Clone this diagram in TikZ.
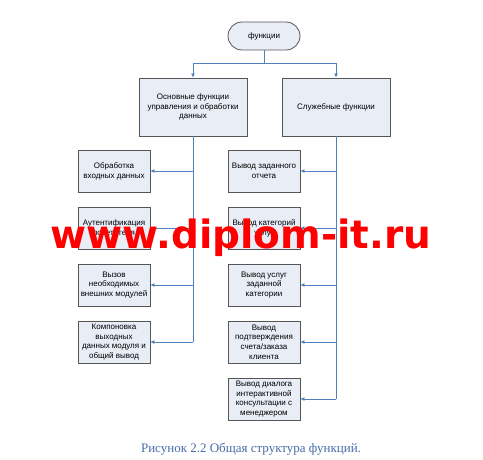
\documentclass[tikz,border=0pt]{standalone}
\usepackage{fontspec}
\setmainfont{Liberation Sans}
\newfontfamily\capfont{Liberation Serif}
\newfontfamily\markfont{DejaVu Sans}
\usepackage{tikz}
\usepackage{xcolor}
\usetikzlibrary{arrows.meta}
\definecolor{boxfill}{RGB}{232,237,246}
\definecolor{boxline}{RGB}{85,85,85}
\definecolor{linkblue}{RGB}{79,129,189}
\definecolor{capblue}{RGB}{74,108,168}

\begin{document}
\begin{tikzpicture}[x=1pt,y=-1pt]
	\tikzstyle{box} = [draw=boxline, fill=boxfill, line width=0.8pt, align=center,
		font=\fontsize{8}{9.8}\selectfont, inner sep=0pt]
	\tikzstyle{small} = [box, minimum width=72pt, minimum height=42pt]
	\tikzstyle{big} = [box, minimum width=108pt, minimum height=58pt]
	\tikzstyle{edge} = [draw=linkblue, line width=0.8pt]
	\tikzstyle{arr} = [edge, -{Latex[length=4pt,width=4pt]}]
	\fill[white] (0,0) rectangle (483,460);
	\useasboundingbox (0,0) rectangle (483,460);
		\node[box, rounded corners=14pt, minimum width=72pt, minimum height=28pt] (f) at (264,36) {функции};
		\node[big] (m) at (193,107) {Основные функции\\управления и обработки\\данных};
		\node[big] (s) at (336,107) {Служебные функции};
		\node[small] (m1) at (114,171) {Обработка\\входных данных};
		\node[small] (m2) at (114,228) {Аутентификация\\посетителя};
		\node[small] (m3) at (114,285) {Вызов\\необходимых\\внешних модулей};
		\node[small] (m4) at (114,342) {Компоновка\\выходных\\данных модуля и\\общий вывод};
		\node[small] (s1) at (264,171) {Вывод заданного\\отчета};
		\node[small] (s2) at (264,228) {Вывод категорий\\услуг};
		\node[small] (s3) at (264,285) {Вывод услуг\\заданной\\категории};
		\node[small] (s4) at (264,342) {Вывод\\подтверждения\\счета/заказа\\клиента};
		\node[small] (s5) at (264,399) {Вывод диалога\\интерактивной\\консультации с\\менеджером};
		\coordinate (j) at (264,63);
	\draw[edge] (f) -- (j);
	\draw[arr] (j) -| (m);
	\draw[arr] (j) -| (s);
	\draw[edge] (m.south) -- (m.south |- m4);
	\draw[arr] (m.south |- m1) -- (m1);
	\draw[arr] (m.south |- m2) -- (m2);
	\draw[arr] (m.south |- m3) -- (m3);
	\draw[arr] (m.south |- m4) -- (m4);
	\draw[edge] (s.south) -- (s.south |- s5);
	\draw[arr] (s.south |- s1) -- (s1);
	\draw[arr] (s.south |- s2) -- (s2);
	\draw[arr] (s.south |- s3) -- (s3);
	\draw[arr] (s.south |- s4) -- (s4);
	\draw[arr] (s.south |- s5) -- (s5);
		\node[text=red, font=\markfont\bfseries\fontsize{39}{39}\selectfont, anchor=base] (w) at (241,248) {www.diplom-it.ru};
		\node[text=capblue, font=\capfont\fontsize{13}{15}\selectfont, anchor=base] (c) at (251,452) {Рисунок 2.2 Общая структура функций.};
\end{tikzpicture}
\end{document}
